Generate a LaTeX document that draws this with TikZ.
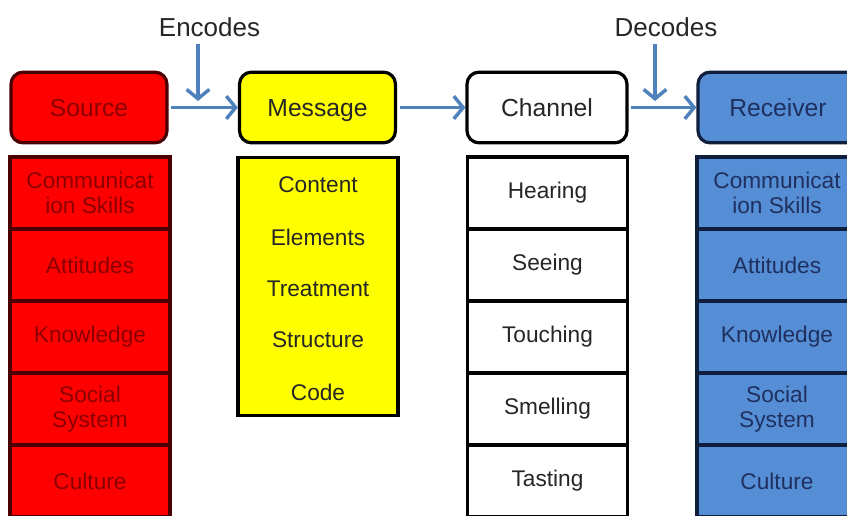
\documentclass[tikz,border=0pt]{standalone}
\usepackage{fontspec}
\setmainfont{Liberation Sans}
\usepackage{tikz}
\usetikzlibrary{positioning,arrows.meta}
\definecolor{srcfill}{HTML}{FF0000}
\definecolor{srcline}{HTML}{4A0000}
\definecolor{srctext}{HTML}{8A0000}
\definecolor{msgfill}{HTML}{FFFF00}
\definecolor{rcvfill}{HTML}{558ED5}
\definecolor{rcvline}{HTML}{0F1E3C}
\definecolor{rcvtext}{HTML}{1F3060}
\definecolor{flowblue}{HTML}{4F81BD}
\definecolor{darktext}{HTML}{262626}

\begin{document}
\begin{tikzpicture}[x=0.75pt, y=-0.75pt,
head/.style={rounded corners=9pt, line width=2.4pt, minimum width=117pt, minimum height=53pt, inner sep=0pt, text height=13.3pt, text depth=0pt, font=\fontsize{18.5}{20}\selectfont},
cell/.style={line width=2.4pt, minimum width=120pt, minimum height=54pt, inner sep=0pt, align=center, font=\fontsize{17}{19}\selectfont},
srccell/.style={cell, draw=srcline, fill=srcfill, text=srctext},
chancell/.style={cell, draw=black, fill=white, text=darktext},
rcvcell/.style={cell, draw=rcvline, fill=rcvfill, text=rcvtext},
item/.style={font=\fontsize{17}{19}\selectfont, text=darktext, inner sep=0pt},
flow/.style={draw=flowblue, line width=2.6pt, -{Straight Barb[length=7pt, width=17pt, line width=2.6pt]}},
tag/.style={font=\fontsize{19.5}{21}\selectfont, text=darktext, inner sep=0pt},
]
\useasboundingbox (0,0) rectangle (847,516);
\clip (0,0) rectangle (847,516);

%Heads
\node[head, draw=srcline, fill=srcfill, text=srctext] (source) at (89,107.5) {Source};
\node[head, draw=black, fill=msgfill, text=darktext] (message) at (317.5,107.5) {Message};
\node[head, draw=black, fill=white, text=darktext, minimum width=120pt] (channel) at (547,107.5) {Channel};
\node[head, draw=rcvline, fill=rcvfill, text=rcvtext, minimum width=120pt] (receiver) at (778,107.5) {Receiver};

%Source column
\node[srccell] (s1) at (90,193) {Communicat\\ion Skills};
\node[srccell] (s2) at (90,265) {Attitudes};
\node[srccell] (s3) at (90,337) {Knowledge};
\node[srccell] (s4) at (90,409) {Social\\System};
\node[srccell] (s5) at (90,481) {Culture};

%Message column
\node[cell, draw=black, fill=msgfill, minimum height=194pt] (msgcol) at (318,286.5) {};
\node[item] (m1) at (318,185) {Content};
\node[item] (m2) at (318,237) {Elements};
\node[item] (m3) at (318,288.5) {Treatment};
\node[item] (m4) at (318,340) {Structure};
\node[item] (m5) at (318,392) {Code};

%Channel column
\node[chancell] (c1) at (547.5,193) {Hearing};
\node[chancell] (c2) at (547.5,265) {Seeing};
\node[chancell] (c3) at (547.5,337) {Touching};
\node[chancell] (c4) at (547.5,409) {Smelling};
\node[chancell] (c5) at (547.5,481) {Tasting};

%Receiver column
\node[rcvcell] (r1) at (777,193) {Communicat\\ion Skills};
\node[rcvcell] (r2) at (777,265) {Attitudes};
\node[rcvcell] (r3) at (777,337) {Knowledge};
\node[rcvcell] (r4) at (777,409) {Social\\System};
\node[rcvcell] (r5) at (777,481) {Culture};

%Flow arrows
\draw[flow] ([xshift=2pt]source.east) -- (message.west);
\draw[flow] ([xshift=2pt]message.east) -- (channel.west);
\draw[flow] ([xshift=2pt]channel.east) -- (receiver.west);

%Encodes / Decodes
\node[tag] (enc) at (209.5,27) {Encodes};
\node[tag] (dec) at (666,27) {Decodes};
\coordinate (encin) at (198,101);
\coordinate (decin) at (655,101);
\draw[flow] (enc.south -| encin) ++(0,7) -- (encin);
\draw[flow] (dec.south -| decin) ++(0,7) -- (decin);
\end{tikzpicture}
\end{document}
